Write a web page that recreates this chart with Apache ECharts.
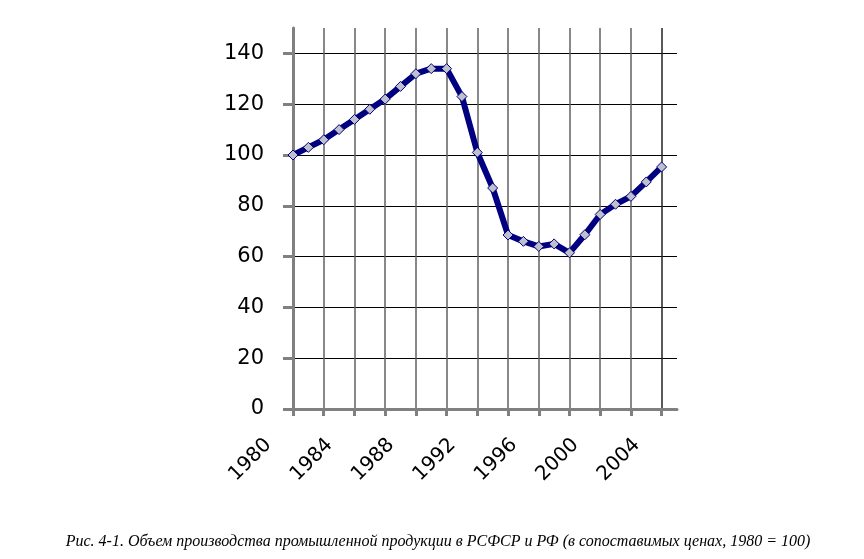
<!DOCTYPE html>
<html>
<head>
<meta charset="utf-8">
<script src="https://cdn.jsdelivr.net/npm/echarts@6/dist/echarts.min.js"></script>
<style>
html,body{margin:0;padding:0;background:#fff;}
#chart{width:864px;height:559px;}
</style>
</head>
<body>
<div id="chart"></div>
<script>
var years = ['1980','1981','1982','1983','1984','1985','1986','1987','1988','1989','1990','1991','1992','1993','1994','1995','1996','1997','1998','1999','2000','2001','2002','2003','2004','2005'];
var production = [100, 103, 106, 110, 114, 118, 122, 127, 132, 134, 134, 123, 101, 87, 68.5, 66, 64, 65, 61.5, 68.6, 76.6, 80.6, 83.7, 89.4, 95.3];
var yTicks = [0, 20, 40, 60, 80, 100, 120, 140];
var caption = 'Рис. 4-1. Объем производства промышленной продукции в РСФСР и РФ (в сопоставимых ценах, 1980 = 100)';

var chart = echarts.init(document.getElementById('chart'), null, {renderer: 'canvas'});
chart.setOption({
  animation: false,
  backgroundColor: '#ffffff',
  title: {
    text: caption,
    left: 433,
    textAlign: 'center',
    top: 529,
    textStyle: {fontFamily: 'Liberation Serif', fontStyle: 'italic', fontWeight: 'normal', fontSize: 16, color: '#000'}
  },
  grid: {left: 293, right: 187, top: 28, bottom: 150},
  xAxis: {
    type: 'category',
    data: years,
    boundaryGap: false,
    axisLine: {lineStyle: {color: '#808080', width: 3}},
    axisTick: {show: true, interval: 1, length: 7, lineStyle: {color: '#808080', width: 3}},
    splitLine: {show: true, interval: 1, lineStyle: {color: ['#606060','#606060','#606060','#606060','#606060','#606060','#606060','#606060','#606060','#606060','#606060','#606060','#222222'], width: 1.5}},
    axisLabel: {
      interval: 3,
      rotate: 45,
      margin: 8,
      padding: [0, 35, 0, 0],
      fontFamily: 'DejaVu Sans',
      fontSize: 20,
      color: '#000'
    }
  },
  yAxis: {
    type: 'value',
    min: 0,
    max: 150,
    interval: 20,
    axisLine: {show: true, lineStyle: {color: '#808080', width: 3}},
    axisTick: {show: true, length: 10, customValues: yTicks, lineStyle: {color: '#808080', width: 3}},
    splitLine: {show: true, lineStyle: {color: ['#000','#000','#000','#000','#000','#000','#000','#000','rgba(0,0,0,0)'], width: 1}},
    axisLabel: {
      customValues: yTicks,
      margin: 29,
      fontFamily: 'DejaVu Sans',
      fontSize: 21,
      color: '#000'
    }
  },
  series: [{
    type: 'line',
    data: production,
    symbol: 'diamond',
    symbolSize: 10,
    showAllSymbol: true,
    lineStyle: {color: '#000080', width: 6},
    itemStyle: {color: '#c0c0cc', borderColor: '#000080', borderWidth: 1},
    z: 5
  }]
});
</script>
</body>
</html>
